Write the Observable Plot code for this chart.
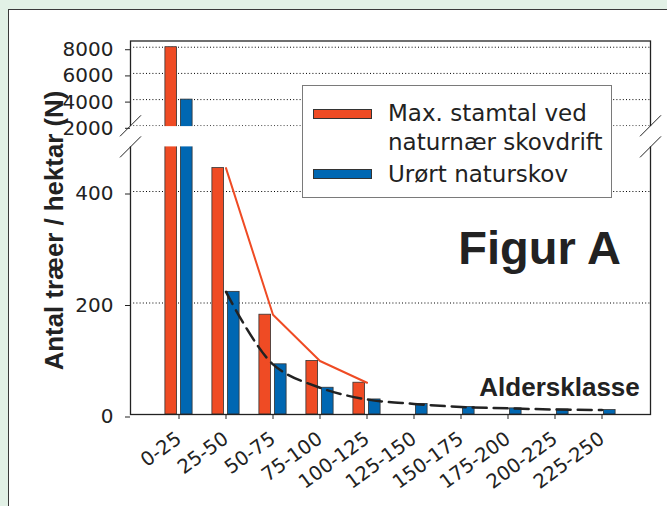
<!DOCTYPE html>
<html>
<head>
<meta charset="utf-8">
<script src="https://cdn.jsdelivr.net/npm/d3@7"></script>
<script src="https://cdn.jsdelivr.net/npm/@observablehq/plot@0.6"></script>
<style>
  html, body { margin: 0; padding: 0; }
  body { background: #e2f1e6; width: 667px; height: 506px; overflow: hidden; position: relative; font-family: "DejaVu Sans", sans-serif; }
  #panel { position: absolute; left: 8px; top: 9px; width: 720px; height: 600px; background: #fff; border: 1.5px solid #3a3a3a; box-sizing: border-box; }
  #chart { position: absolute; left: 0; top: 0; }
  #legend { position: absolute; left: 302px; top: 85px; width: 310px; height: 113px; background: #fff; border: 1.5px solid #7a7a7a; box-sizing: border-box; }
  .sw { position: absolute; left: 10px; width: 59px; height: 10.5px; border: 0.8px solid #333; box-sizing: border-box; }
  .lt { position: absolute; left: 85px; font-size: 23px; line-height: 29px; color: #222; white-space: nowrap; }
</style>
</head>
<body>
<div id="panel"></div>
<div id="chart"></div>
<div id="legend"></div>
<script>
// ---- data ----
const categories = ["0-25","25-50","50-75","75-100","100-125","125-150","150-175","175-200","200-225","225-250"];
const maxStamtal = [8000, 442, 179, 96, 57, null, null, null, null, null];
const urortNaturskov = [4000, 220, 90, 48, 27, 19, 13.5, 11, 9, 8];
const yTicks = [0, 200, 400, 2000, 4000, 6000, 8000];
const gridTicks = [200, 400, 2000, 4000, 6000, 8000];
const breakValues = [480, 2000];
const seriesNames = ["Max. stamtal ved\nnaturnær skovdrift", "Urørt naturskov"];
const yLabel = "Antal træer / hektar (N)";
const xLabel = "Aldersklasse";
const figTitle = "Figur A";

const RED = "#ef4b24", BLUE = "#0067b2";

const redData = categories.map((c, i) => ({cat: c, v: maxStamtal[i]})).filter(d => d.v != null);
const blueData = categories.map((c, i) => ({cat: c, v: urortNaturskov[i]}));
const redLine = redData.slice(1);
const blueLine = blueData.slice(1);

// break mark symbol: a slanted stroke
const slash = {
  draw(ctx, size) {
    const r = Math.sqrt(size / Math.PI);
    ctx.moveTo(-r, r);
    ctx.lineTo(r, -r);
  }
};

const chart = Plot.plot({
  width: 667,
  height: 506,
  marginLeft: 130,
  marginRight: 17,
  marginTop: 40.5,
  marginBottom: 92,
  style: {background: "transparent", fontFamily: "DejaVu Sans", fontSize: "20px", color: "#222", overflow: "visible"},
  x: {type: "band", domain: categories, paddingInner: 0, paddingOuter: 0.5, label: null},
  y: {type: "linear", domain: [0, 480, 2000, 8475], range: [414, 146.4, 125.3, 40.5], label: null},
  marks: [
    Plot.gridY(gridTicks, {stroke: "#000", strokeOpacity: 1, strokeWidth: 1, strokeDasharray: "1,2.2"}),
    Plot.barY(redData, {x: "cat", y: "v", fill: RED, stroke: "#333", strokeWidth: 0.8, insetLeft: 9.9, insetRight: 25.4}),
    Plot.barY(blueData, {x: "cat", y: "v", fill: BLUE, stroke: "#333", strokeWidth: 0.8, insetLeft: 25.4, insetRight: 9.9}),
    Plot.frame({stroke: "#222", strokeWidth: 1.3}),
    Plot.rect([0], {y1: breakValues[0], y2: breakValues[1], fill: "white", insetLeft: -4, insetRight: -4, insetTop: 0.8}),
    Plot.line(redLine, {x: "cat", y: "v", stroke: RED, strokeWidth: 2}),
    Plot.line(blueLine, {x: "cat", y: "v", stroke: "#222", strokeWidth: 2.5, strokeDasharray: "14,7", curve: "catmull-rom"}),
    Plot.dot(breakValues, {y: d => d, frameAnchor: "left", symbol: slash, r: 10.5, fill: "none", stroke: "#222", strokeWidth: 1}),
    Plot.dot(breakValues, {y: d => d, frameAnchor: "right", symbol: slash, r: 10.5, fill: "none", stroke: "#222", strokeWidth: 1}),
    Plot.axisY(yTicks, {tickSize: 5, tickPadding: 12, dy: 2.5, label: null, stroke: "#222", fill: "#222", fontSize: 20, fontFamily: "DejaVu Sans", tickFormat: d => String(d)}),
    Plot.axisX({tickSize: 5, label: null, stroke: "#222", fill: "none"}),
    Plot.text(categories, {x: d => d, frameAnchor: "bottom", rotate: -36, textAnchor: "end", lineAnchor: "middle", dx: 0, dy: 22, fontSize: 19.5, fontFamily: "DejaVu Sans", fill: "#222"}),
    Plot.text([figTitle], {frameAnchor: "top-right", textAnchor: "end", lineAnchor: "bottom", dx: -29.5, dy: 222.8, fontSize: 47, fontWeight: "bold", fontFamily: "Liberation Sans", fill: "#222"}),
    Plot.text([xLabel], {frameAnchor: "bottom-right", textAnchor: "end", lineAnchor: "bottom", dx: -10.7, dy: -19, fontSize: 26, fontWeight: "bold", fontFamily: "Liberation Sans", fill: "#222"}),
    Plot.text([yLabel], {frameAnchor: "left", rotate: -90, textAnchor: "middle", lineAnchor: "bottom", dx: -68, dy: 2.75, fontSize: 25.8, fontWeight: "bold", fontFamily: "Liberation Sans", fill: "#222"})
  ]
});
document.getElementById("chart").appendChild(chart);

// legend
const legend = document.getElementById("legend");
const items = [
  {name: seriesNames[0], color: RED, swTop: 22.7, textTop: 12.5},
  {name: seriesNames[1], color: BLUE, swTop: 82.7, textTop: 73.5}
];
for (const it of items) {
  const sw = document.createElement("div");
  sw.className = "sw";
  sw.style.top = it.swTop + "px";
  sw.style.background = it.color;
  legend.appendChild(sw);
  it.name.split("\n").forEach((line, j) => {
    const t = document.createElement("div");
    t.className = "lt";
    t.style.top = (it.textTop + j * 29) + "px";
    t.textContent = line;
    legend.appendChild(t);
  });
}
</script>
</body>
</html>
